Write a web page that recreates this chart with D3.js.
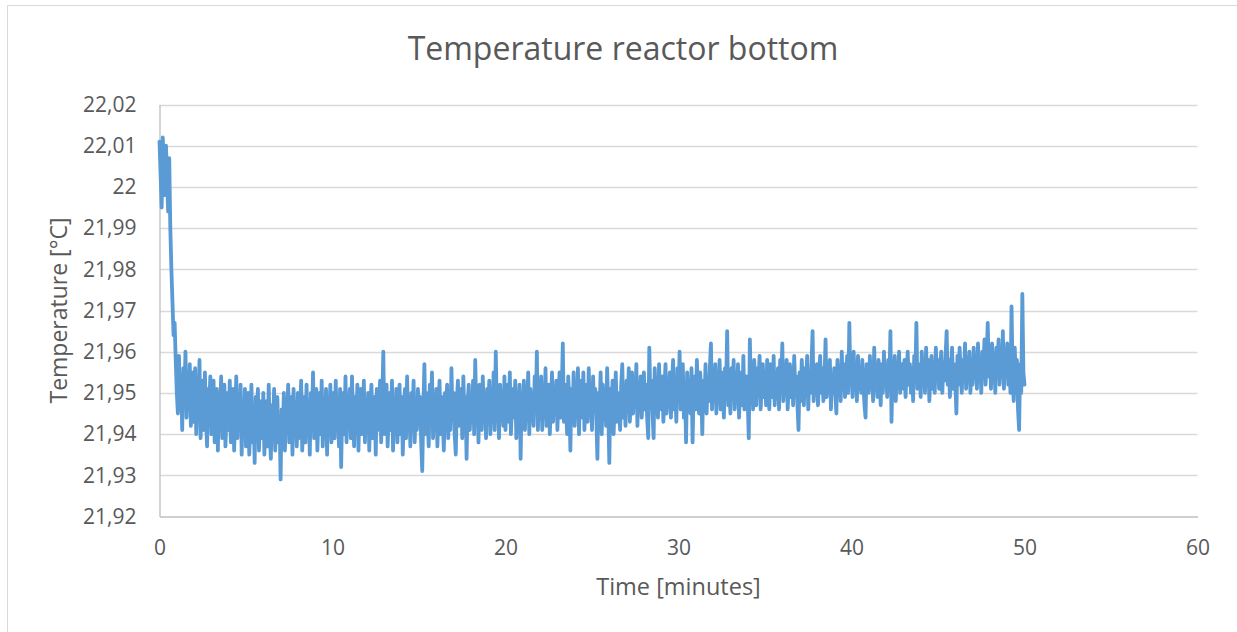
<!DOCTYPE html>
<html><head><meta charset="utf-8">
<script src="https://cdn.jsdelivr.net/npm/d3@7"></script>
<style>body{margin:0;background:#fff}svg{display:block}text{font-family:"Open Sans",sans-serif;fill:#595959}</style>
</head><body>
<script>
const chartTitle = "Temperature reactor bottom";
const xTitle = "Time [minutes]";
const yTitle = "Temperature [°C]";
const xTicks = [0, 10, 20, 30, 40, 50, 60];
const yTicks = [21.92, 21.93, 21.94, 21.95, 21.96, 21.97, 21.98, 21.99, 22.00, 22.01, 22.02];
const sampleMinutes = 0.0625; // sampling interval (16 samples per minute)
const temperature = [
22.011,22.003,21.995,22.012,22.006,21.998,22.010,22.001,21.994,22.007,21.990,21.980,21.972,21.964,21.967,21.958,
21.950,21.945,21.959,21.947,21.953,21.941,21.956,21.948,21.960,21.944,21.952,21.946,21.957,21.942,21.951,21.955,
21.943,21.956,21.940,21.950,21.946,21.958,21.939,21.948,21.953,21.941,21.955,21.944,21.937,21.951,21.947,21.954,
21.940,21.949,21.953,21.938,21.946,21.951,21.936,21.950,21.943,21.954,21.939,21.947,21.952,21.937,21.945,21.950,
21.941,21.953,21.938,21.947,21.951,21.936,21.944,21.954,21.939,21.949,21.942,21.952,21.935,21.948,21.940,21.951,
21.937,21.946,21.950,21.935,21.943,21.952,21.938,21.947,21.933,21.949,21.941,21.951,21.936,21.944,21.948,21.939,
21.950,21.935,21.945,21.948,21.937,21.952,21.940,21.934,21.947,21.942,21.951,21.936,21.946,21.949,21.938,21.944,
21.929,21.946,21.940,21.950,21.936,21.948,21.943,21.952,21.938,21.945,21.949,21.935,21.951,21.941,21.947,21.937,
21.950,21.939,21.946,21.953,21.936,21.944,21.949,21.938,21.952,21.941,21.947,21.935,21.950,21.943,21.955,21.939,
21.946,21.951,21.936,21.944,21.950,21.940,21.953,21.937,21.947,21.942,21.951,21.935,21.948,21.944,21.952,21.938,
21.945,21.950,21.939,21.953,21.941,21.947,21.937,21.951,21.932,21.946,21.950,21.940,21.954,21.938,21.948,21.943,
21.951,21.939,21.954,21.944,21.937,21.949,21.942,21.952,21.936,21.947,21.951,21.940,21.945,21.953,21.938,21.948,
21.942,21.950,21.936,21.947,21.952,21.939,21.944,21.949,21.935,21.951,21.941,21.946,21.953,21.938,21.948,21.960,
21.940,21.947,21.952,21.937,21.945,21.950,21.941,21.953,21.936,21.948,21.943,21.951,21.938,21.946,21.952,21.940,
21.949,21.935,21.944,21.951,21.939,21.954,21.942,21.947,21.937,21.950,21.945,21.953,21.938,21.948,21.941,21.951,
21.944,21.949,21.938,21.931,21.946,21.957,21.940,21.950,21.943,21.937,21.952,21.945,21.955,21.939,21.948,21.942,
21.951,21.937,21.946,21.953,21.940,21.949,21.943,21.936,21.950,21.945,21.952,21.939,21.947,21.941,21.956,21.944,
21.950,21.940,21.935,21.948,21.953,21.942,21.946,21.951,21.939,21.954,21.944,21.949,21.934,21.947,21.952,21.941,
21.948,21.943,21.953,21.940,21.958,21.945,21.950,21.938,21.952,21.946,21.941,21.954,21.944,21.949,21.939,21.951,
21.945,21.953,21.940,21.948,21.943,21.955,21.941,21.960,21.946,21.950,21.939,21.952,21.944,21.948,21.942,21.954,
21.941,21.949,21.952,21.943,21.955,21.940,21.947,21.951,21.944,21.953,21.939,21.948,21.946,21.952,21.934,21.950,
21.944,21.953,21.941,21.949,21.946,21.955,21.940,21.951,21.945,21.948,21.942,21.954,21.947,21.960,21.941,21.950,
21.946,21.954,21.941,21.950,21.944,21.956,21.942,21.949,21.952,21.940,21.947,21.955,21.943,21.951,21.946,21.953,
21.941,21.949,21.955,21.944,21.950,21.962,21.943,21.952,21.946,21.940,21.954,21.948,21.936,21.951,21.944,21.955,
21.942,21.950,21.946,21.956,21.940,21.953,21.947,21.944,21.955,21.941,21.949,21.952,21.943,21.956,21.945,21.950,
21.941,21.954,21.947,21.951,21.944,21.934,21.950,21.946,21.955,21.940,21.952,21.945,21.949,21.942,21.956,21.947,
21.933,21.951,21.944,21.953,21.940,21.948,21.955,21.943,21.950,21.946,21.941,21.952,21.957,21.944,21.949,21.942,
21.953,21.946,21.956,21.943,21.950,21.955,21.945,21.952,21.948,21.957,21.942,21.951,21.947,21.954,21.944,21.950,
21.955,21.946,21.952,21.944,21.939,21.961,21.948,21.953,21.945,21.939,21.956,21.947,21.951,21.944,21.957,21.949,
21.946,21.954,21.943,21.951,21.957,21.945,21.950,21.948,21.955,21.944,21.952,21.958,21.946,21.951,21.943,21.956,
21.948,21.960,21.946,21.953,21.957,21.944,21.951,21.938,21.955,21.947,21.952,21.945,21.956,21.938,21.950,21.954,
21.946,21.958,21.949,21.945,21.955,21.951,21.940,21.953,21.947,21.957,21.945,21.952,21.948,21.956,21.962,21.946,
21.954,21.948,21.957,21.945,21.952,21.950,21.958,21.946,21.955,21.949,21.944,21.956,21.951,21.965,21.947,21.953,
21.945,21.956,21.950,21.958,21.946,21.953,21.949,21.957,21.944,21.952,21.955,21.947,21.959,21.946,21.951,21.954,
21.948,21.939,21.963,21.950,21.955,21.946,21.958,21.951,21.947,21.956,21.953,21.959,21.946,21.952,21.957,21.949,
21.955,21.947,21.958,21.951,21.946,21.957,21.953,21.949,21.959,21.947,21.954,21.950,21.956,21.946,21.958,21.952,
21.962,21.948,21.955,21.951,21.958,21.946,21.953,21.957,21.949,21.956,21.947,21.959,21.951,21.954,21.947,21.941,
21.955,21.948,21.958,21.951,21.947,21.956,21.953,21.959,21.946,21.954,21.950,21.957,21.965,21.948,21.955,21.951,
21.957,21.947,21.954,21.959,21.950,21.956,21.948,21.953,21.963,21.949,21.955,21.951,21.958,21.946,21.954,21.950,
21.956,21.950,21.945,21.958,21.952,21.955,21.948,21.960,21.951,21.957,21.949,21.954,21.959,21.950,21.967,21.952,
21.957,21.949,21.960,21.953,21.956,21.948,21.959,21.951,21.955,21.950,21.958,21.952,21.947,21.944,21.957,21.953,
21.950,21.959,21.952,21.956,21.948,21.961,21.951,21.955,21.949,21.958,21.953,21.947,21.957,21.950,21.960,21.952,
21.956,21.949,21.958,21.952,21.965,21.943,21.955,21.951,21.959,21.948,21.956,21.953,21.960,21.950,21.954,21.957,
21.951,21.958,21.949,21.955,21.960,21.952,21.957,21.950,21.956,21.948,21.959,21.953,21.967,21.951,21.957,21.954,
21.949,21.960,21.953,21.956,21.950,21.961,21.952,21.958,21.948,21.955,21.959,21.951,21.957,21.950,21.961,21.954,
21.958,21.951,21.956,21.960,21.950,21.957,21.953,21.959,21.965,21.952,21.958,21.949,21.956,21.961,21.951,21.957,
21.953,21.945,21.959,21.952,21.961,21.955,21.950,21.958,21.954,21.962,21.951,21.957,21.953,21.960,21.950,21.958,
21.952,21.961,21.955,21.959,21.951,21.962,21.954,21.958,21.950,21.960,21.956,21.963,21.952,21.958,21.967,21.954,
21.959,21.951,21.962,21.955,21.958,21.950,21.961,21.956,21.963,21.952,21.959,21.954,21.965,21.951,21.960,21.955,
21.962,21.952,21.958,21.950,21.971,21.955,21.948,21.961,21.953,21.958,21.946,21.941,21.957,21.950,21.974,21.955,
21.952
];

const W = 1237, H = 632;
const svg = d3.select("body").append("svg").attr("width", W).attr("height", H);
svg.append("rect").attr("x", 7.5).attr("y", 5.5).attr("width", 1240).attr("height", 640)
  .attr("fill", "#fff").attr("stroke", "#d9d9d9").attr("stroke-width", 1);

const m = {left: 159.5, right: 1197.5, top: 104.5, bottom: 516.5};
const x = d3.scaleLinear().domain([0, 60]).range([m.left, m.right]);
const y = d3.scaleLinear().domain([21.92, 22.02]).range([m.bottom, m.top]);

// gridlines
svg.append("g").selectAll("line").data(yTicks.slice(1)).join("line")
  .attr("x1", m.left).attr("x2", m.right)
  .attr("y1", d => Math.round(y(d)) + 0.5).attr("y2", d => Math.round(y(d)) + 0.5)
  .attr("stroke", "#d9d9d9").attr("stroke-width", 1.3);

// axes
const xAxis = svg.append("g").attr("transform", `translate(0,${m.bottom})`)
  .call(d3.axisBottom(x).tickValues(xTicks).tickSize(0).tickPadding(24).tickFormat(d3.format("d")));
const yAxis = svg.append("g").attr("transform", `translate(${m.left},0)`)
  .call(d3.axisLeft(y).tickValues(yTicks).tickSize(0).tickPadding(23)
    .tickFormat(d => d3.format(".2~f")(d).replace(".", ",")));
[xAxis, yAxis].forEach(a => {
  a.select(".domain").attr("stroke", "#bfbfbf").attr("stroke-width", 1.3);
  a.selectAll("text").attr("font-size", 21).attr("fill", "#595959").attr("font-family", "'Open Sans',sans-serif");
});

// line
const data = temperature.map((v, i) => ({t: i * sampleMinutes, v}));
svg.append("path").datum(data)
  .attr("fill", "none").attr("stroke", "#5b9bd5").attr("stroke-width", 3.8)
  .attr("stroke-linejoin", "round").attr("stroke-linecap", "round")
  .attr("d", d3.line().x(d => x(d.t)).y(d => y(d.v)));

// titles
svg.append("text").attr("x", 623).attr("y", 60).attr("text-anchor", "middle")
  .attr("font-size", 32).text(chartTitle);
svg.append("text").attr("x", (m.left + m.right) / 2).attr("y", 595).attr("text-anchor", "middle")
  .attr("font-size", 23.5).text(xTitle);
svg.append("text").attr("transform", `translate(67,${(m.top + m.bottom) / 2}) rotate(-90)`)
  .attr("text-anchor", "middle").attr("font-size", 23).text(yTitle);
</script>
</body></html>
